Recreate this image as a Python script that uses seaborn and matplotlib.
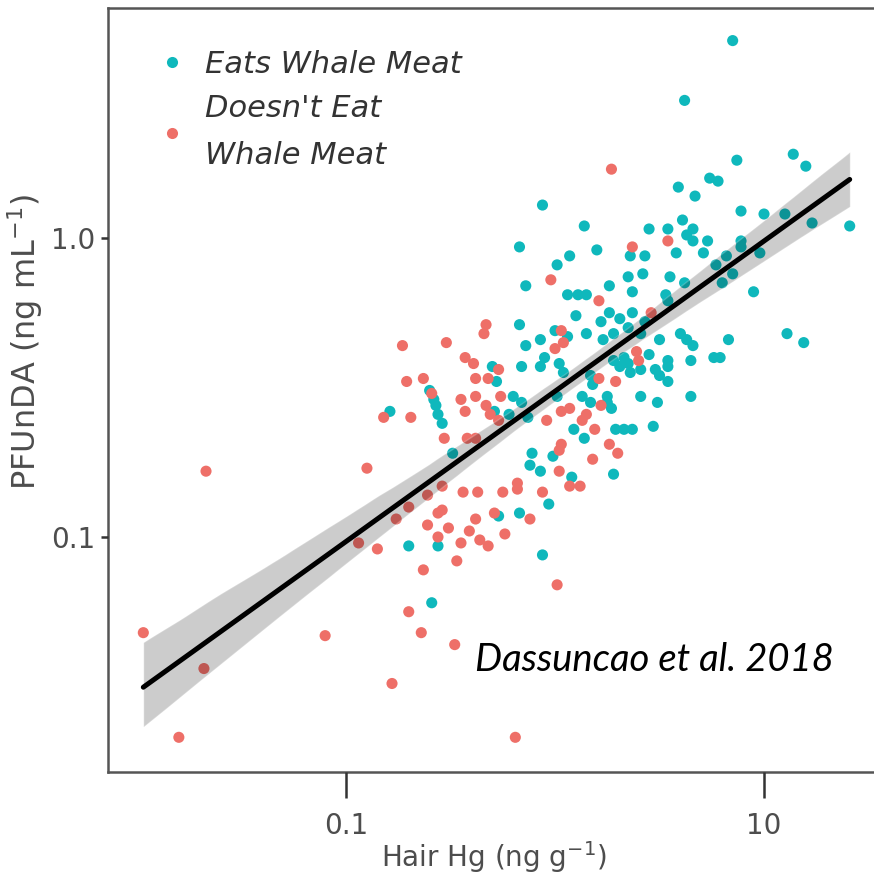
import numpy as np
import pandas as pd
import matplotlib
matplotlib.use("Agg")
import matplotlib.pyplot as plt
import seaborn as sns

# ---- data (in log10 units of the plotted quantities) ----
# Eats whale meat: log10 hair Hg (ng/g), log10 PFUnDA (ng/mL)
eats_log_hg = [0.85, 0.62, 0.87, 1.14, 1.20, 0.74, 0.78, 0.59, 0.67, -0.06,
               0.89, 1.00, 1.10, 1.23, 1.41, 0.14, 0.45, 0.54, 0.61, 0.63,
               0.66, 0.66, 0.73, 0.89, 0.89, -0.17, 0.20, 0.36, 0.43, 0.58,
               0.71, 0.82, 0.98, 0.07, 0.01, 0.77, 0.35, 0.42, 0.55, 0.62,
               0.85, -0.14, 0.06, 0.11, 0.15, 0.26, 0.37, 0.53, 0.95, 0.10,
               0.26, 0.31, 0.37, 0.43, 0.54, -0.17, -0.14, -0.07, 0.00, 0.06,
               0.15, 0.23, 0.28, 0.50, 0.60, 0.63, 0.66, 0.83, 1.11, 1.19,
               0.45, 0.28, 0.33, 0.35, 0.54, 0.54, 0.65, 0.76, 0.79, 0.31,
               0.36, 0.41, 0.48, 0.50, 0.17, 0.18, 0.54, 0.65, 0.13, 0.17,
               0.25, 0.25, 0.27, 0.49, 0.14, 0.29, 0.33, 0.37, 0.47, 0.28,
               -0.30, -0.16, -0.07, -0.05, 0.02, 0.04, -0.28, -0.20, -0.29, -0.22,
               -0.16, -0.13, 0.01, 0.09, -0.49, -0.11, -0.12, -0.01, -0.07, 0.08,
               -0.79, -0.60, -0.58, -0.57, -0.56, -0.54, -0.70, -0.59, -0.56, -0.27,
               -0.06, -0.03, -0.17, 0.41, 0.80, 0.22, 0.35, 0.41]
eats_log_pfunda = [0.66, 0.46, 0.26, 0.28, 0.24, 0.20, 0.19, 0.17, 0.14, 0.11,
                   0.09, 0.08, 0.08, 0.05, 0.04, 0.04, 0.03, 0.03, 0.06, 0.01,
                   0.03, -0.01, -0.01, -0.01, -0.03, -0.03, -0.04, -0.06, -0.06, -0.05,
                   -0.05, -0.06, -0.05, -0.06, -0.09, -0.09, -0.13, -0.12, -0.13, -0.15,
                   -0.12, -0.16, -0.19, -0.19, -0.19, -0.16, -0.18, -0.19, -0.18, -0.26,
                   -0.25, -0.27, -0.25, -0.28, -0.21, -0.29, -0.36, -0.34, -0.31, -0.33,
                   -0.32, -0.34, -0.32, -0.34, -0.32, -0.34, -0.36, -0.34, -0.32, -0.35,
                   -0.39, -0.41, -0.40, -0.42, -0.41, -0.43, -0.41, -0.40, -0.40, -0.43,
                   -0.45, -0.44, -0.44, -0.46, -0.46, -0.49, -0.48, -0.53, -0.53, -0.55,
                   -0.53, -0.55, -0.57, -0.55, -0.67, -0.64, -0.64, -0.64, -0.63, -0.79,
                   -0.43, -0.43, -0.43, -0.40, -0.42, -0.45, -0.48, -0.53, -0.58, -0.59,
                   -0.55, -0.60, -0.53, -0.64, -0.72, -0.72, -0.76, -0.73, -0.78, -0.80,
                   -0.58, -0.51, -0.54, -0.56, -0.59, -0.62, -1.03, -1.22, -1.03, -0.93,
                   -1.06, -0.89, -0.92, -0.53, -0.15, -0.28, -0.30, -0.32]

# Doesn't eat whale meat
no_log_hg = [0.27, 0.37, 0.54, -0.02, 0.21, 0.46, -0.33, -0.34, -0.73, -0.52,
             0.03, 0.04, 0.00, -0.43, -0.39, -0.27, -0.38, -0.32, -0.71, -0.63,
             0.39, 0.40, 0.21, 0.29, 0.22, 0.15, 0.13, 0.19, 0.26, 0.30,
             0.18, 0.12, -0.82, -0.69, -0.59, -0.45, -0.43, -0.38, -0.33, -0.31,
             -0.27, -0.26, -0.04, 0.03, 0.07, -0.42, -0.38, -0.53, 0.03, 0.02,
             0.02, 0.07, -0.06, -0.18, -0.18, -0.25, -0.44, -0.37, -0.54, -0.90,
             -1.67, -0.61, -0.70, -0.76, -0.56, -0.54, -0.61, -0.51, -0.56, -0.45,
             -0.47, -0.38, -0.41, -0.36, -0.29, -0.94, -0.85, -0.63, -0.70, -0.64,
             -0.48, -1.97, -1.68, -1.80, -1.10, -0.78, -0.19, 0.01, -0.32, -0.24,
             -0.12]
no_log_pfunda = [0.23, -0.03, -0.01, -0.14, -0.21, -0.25, -0.29, -0.32, -0.36, -0.35,
                 -0.31, -0.35, -0.37, -0.40, -0.42, -0.44, -0.47, -0.47, -0.48, -0.47,
                 -0.38, -0.41, -0.47, -0.48, -0.56, -0.59, -0.61, -0.64, -0.69, -0.72,
                 -0.74, -0.83, -0.60, -0.60, -0.52, -0.54, -0.58, -0.53, -0.56, -0.59,
                 -0.61, -0.53, -0.61, -0.58, -0.57, -0.67, -0.67, -0.67, -0.69, -0.71,
                 -0.78, -0.83, -0.85, -0.82, -0.84, -0.85, -0.85, -0.85, -0.83, -0.77,
                 -0.78, -0.86, -0.90, -0.94, -0.92, -0.91, -0.96, -0.97, -1.00, -1.02,
                 -1.08, -0.94, -0.98, -1.01, -0.92, -1.02, -1.04, -1.11, -1.25, -1.32,
                 -1.36, -1.32, -1.44, -1.67, -1.33, -1.49, -1.67, -1.16, -1.03, -0.99,
                 -0.94]

groups = ["Eats Whale Meat", "Doesn't Eat\nWhale Meat"]
group_colors = ["#0FB8BC", "#EE6F68"]
x_tick_values = [0.1, 10]
x_tick_labels = ["0.1", "10"]
y_tick_values = [0.1, 1.0]
y_tick_labels = ["0.1", "1.0"]

df = pd.concat([
    pd.DataFrame({"log_hg": eats_log_hg, "log_pfunda": eats_log_pfunda, "group": groups[0]}),
    pd.DataFrame({"log_hg": no_log_hg, "log_pfunda": no_log_pfunda, "group": groups[1]}),
], ignore_index=True)

sns.set_theme(style="ticks")
plt.rcParams["font.family"] = ["DejaVu Sans"]

W, H = 874, 882
fig = plt.figure(figsize=(W / 100, H / 100), dpi=100)
ax = fig.add_axes([108 / W, 110 / H, 772 / W, 764 / H])

sns.scatterplot(data=df, x="log_hg", y="log_pfunda", hue="group", hue_order=groups,
                palette=dict(zip(groups, group_colors)), s=64, linewidth=0, ax=ax)

sns.regplot(data=df, x="log_hg", y="log_pfunda", scatter=False, color="black",
            ci=95, seed=0, line_kws={"lw": 3.6, "zorder": 5}, ax=ax)
for coll in ax.collections:
    if isinstance(coll, matplotlib.collections.PolyCollection):
        coll.set_alpha(0.2)
        coll.set_zorder(4)

ax.set_xlim(-2.139, 1.555)
ax.set_ylim(-1.786, 0.769)

for sp in ax.spines.values():
    sp.set_color("#555555")
    sp.set_linewidth(1.8)

ax.set_xlabel(r"Hair Hg (ng g$^{\mathregular{-1}}$)", fontsize=20, color="#4d4d4d", labelpad=0)
ax.set_ylabel(r"PFUnDA (ng mL$^{\mathregular{-1}}$)", fontsize=23, color="#4d4d4d")
ax.yaxis.set_label_coords(-0.082, 0.563)

handles, labels = ax.get_legend_handles_labels()
leg = ax.legend(handles, labels, loc="upper left", bbox_to_anchor=(0.067, 0.945),
                frameon=False, handlelength=0.8, handletextpad=0.68,
                labelspacing=0.5, borderpad=0, borderaxespad=0,
                prop={"style": "italic", "size": 22})
for t in leg.get_texts():
    t.set_color("#333333")
    t.set_linespacing(1.78)

ax.text(0.475, 0.1466, "Dassuncao et al. 2018", transform=ax.transAxes,
        fontsize=27.5, fontstyle="italic", family=["Lato", "DejaVu Sans"],
        color="black", ha="left", va="center")

# ticks set up last, drawn above the plot content
ax.set_axisbelow(False)
ax.set_xticks(np.log10(x_tick_values))
ax.set_xticklabels(x_tick_labels)
ax.set_yticks(np.log10(y_tick_values))
ax.set_yticklabels(y_tick_labels)
ax.tick_params(axis="both", which="major", labelsize=20, labelcolor="#4d4d4d",
               direction="out", color="#333333", width=1.8)
ax.tick_params(axis="x", bottom=True, length=19, pad=9.5)
ax.tick_params(axis="y", left=True, length=5, pad=4)
for tk in ax.xaxis.get_major_ticks() + ax.yaxis.get_major_ticks():
    tk.tick1line.set_visible(True)

fig.savefig("out.png", dpi=100)
